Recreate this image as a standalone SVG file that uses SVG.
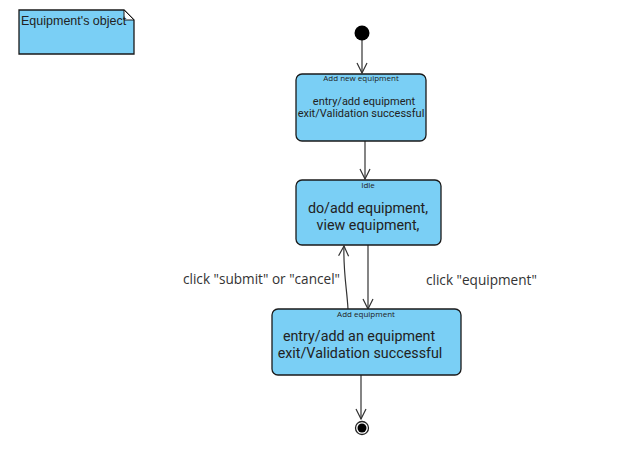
<svg xmlns="http://www.w3.org/2000/svg" width="624" height="457" viewBox="0 0 624 457">
<style>
.st{fill:#7acff5;stroke:#1a1a1a;stroke-width:1.3}
.t{font-family:Roboto,"DejaVu Sans",sans-serif;fill:#222;text-anchor:middle}
.small{font-family:"Open Sans","DejaVu Sans",sans-serif;font-size:8px}
.lbl{font-family:"Open Sans","DejaVu Sans",sans-serif;fill:#333;font-size:13.6px}
.ln{fill:none;stroke:#333;stroke-width:1.2}
</style>
<defs>
<marker id="ah" markerWidth="12" markerHeight="12" refX="11" refY="6" orient="auto" markerUnits="userSpaceOnUse" viewBox="0 0 12 12">
<path d="M1,1 L11,6 L1,11" fill="none" stroke="#333" stroke-width="1.2"/>
</marker>
</defs>
<rect width="624" height="457" fill="#fff"/>
<g id="note">
<path d="M19,10 H124 L134,20 V54 H19 Z" fill="#7acff5" stroke="#1a1a1a" stroke-width="1.3"/>
<path d="M124,10 V20 H134 Z" fill="#fff" stroke="#1a1a1a" stroke-width="1"/>
<text x="21" y="25" font-family="'Liberation Sans',Arial,sans-serif" font-size="12.5" fill="#222">Equipment's object</text>
</g>
<g id="connectors">
<line class="ln" x1="362" y1="40" x2="362" y2="73"  marker-end="url(#ah)"/>
<line class="ln" x1="365" y1="141" x2="365" y2="179" marker-end="url(#ah)"/>
<line class="ln" x1="368" y1="245" x2="368" y2="309" marker-end="url(#ah)"/>
<path class="ln" d="M348,309 C347,290 343,270 344,246" marker-end="url(#ah)"/>
<line class="ln" x1="361" y1="375" x2="361" y2="419" marker-end="url(#ah)"/>
<text class="lbl" x="183" y="284">click "submit" or "cancel"</text>
<text class="lbl" x="426" y="285">click "equipment"</text>
</g>
<g id="start"><circle cx="362" cy="33" r="7.5" fill="#000"/></g>
<g id="add-new-equipment">
<rect class="st" x="296" y="74" width="130" height="67" rx="6"/>
<text class="t small" x="361" y="81">Add new equipment</text>
<text class="t" x="364" y="104.5" font-size="11">entry/add equipment</text>
<text class="t" x="361" y="117" font-size="11">exit/Validation successful</text>
</g>
<g id="idle">
<rect class="st" x="296" y="180" width="145" height="65" rx="6"/>
<text class="t small" x="368" y="188">Idle</text>
<text class="t" x="368" y="212.5" font-size="14.3">do/add equipment,</text>
<text class="t" x="368" y="229.5" font-size="14.3">view equipment,</text>
</g>
<g id="add-equipment">
<rect class="st" x="272" y="309" width="189" height="66" rx="6"/>
<text class="t small" x="366" y="317">Add equipment</text>
<text class="t" x="359" y="340.5" font-size="14.3">entry/add an equipment</text>
<text class="t" x="360" y="357.5" font-size="14.3">exit/Validation successful</text>
</g>
<g id="end">
<circle cx="362" cy="428" r="6.5" fill="#fff" stroke="#222" stroke-width="1.3"/>
<circle cx="362" cy="428" r="4.5" fill="#000"/>
</g>
</svg>
